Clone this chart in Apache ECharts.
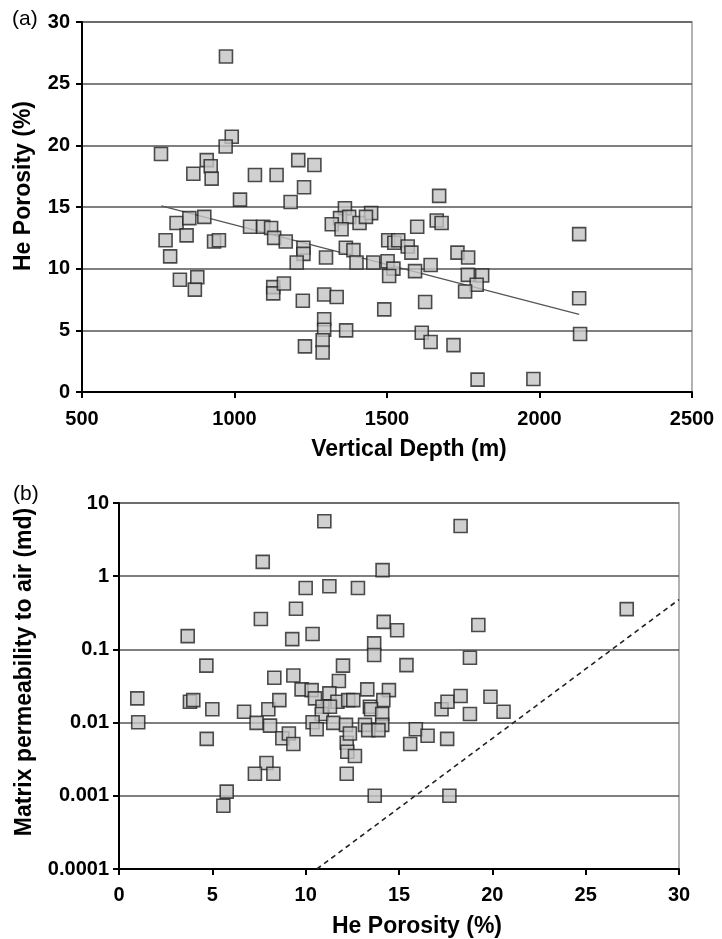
<!DOCTYPE html>
<html>
<head>
<meta charset="utf-8">
<script src="https://cdn.jsdelivr.net/npm/echarts@6/dist/echarts.min.js"></script>
<style>
  html, body { margin: 0; padding: 0; background: #fff; }
  #main { width: 722px; height: 939px; }
</style>
</head>
<body>
<div id="main"></div>
<script>
// NOTE - Data, panel (a): He porosity vs vertical depth

var depthA = [
  991, 971, 759, 909, 922, 925, 865, 1067, 1138, 1209, 1262, 1228, 1018, 1184, 1362,
  1346, 1376, 1319, 1351, 1410, 810, 852, 901, 1051, 1094, 1120, 843, 774, 933, 949,
  1130, 1168, 1226, 1226, 789, 1300, 1204, 1365, 1390, 1400, 821, 878, 870, 1127, 1127,
  1162, 1224, 1294, 1335, 1294, 1294, 1366, 1289, 1289, 1231, 972,
  1671, 1448, 1431, 1663, 1679, 1599, 1504, 1524, 1537, 1568, 1580, 1731, 1766, 1455, 1502,
  1521, 1507, 1592, 1643, 1765, 1812, 1794, 1756, 1491, 1625, 1614, 1643, 1718, 1797, 1980,
  2130, 2130, 2133
];
var porosityA = [
  20.7, 19.9, 19.3, 18.8, 18.3, 17.3, 17.7, 17.6, 17.6, 18.8, 18.4, 16.6, 15.6, 15.4, 14.9,
  14.1, 14.2, 13.6, 13.2, 13.7, 13.7, 14.1, 14.2, 13.4, 13.4, 13.3, 12.7, 12.3, 12.2, 12.3,
  12.5, 12.2, 11.7, 11.2, 11.0, 10.9, 10.5, 11.7, 11.5, 10.5, 9.1, 9.3, 8.3, 8.5, 8.0,
  8.8, 7.4, 7.9, 7.7, 5.9, 5.05, 5.0, 4.2, 3.2, 3.7, 27.2,
  15.9, 14.5, 14.2, 13.9, 13.7, 13.4, 12.3, 12.1, 12.3, 11.8, 11.3, 11.3, 10.9, 10.5, 10.6,
  10.0, 9.4, 9.8, 10.3, 9.5, 9.45, 8.7, 8.15, 6.7, 7.3, 4.8, 4.05, 3.8, 1.0, 1.05,
  12.8, 7.6, 4.7
];
// trend line end points
var trendDepth = [760, 2130];
var trendPorosity = [15.1, 6.3];

// NOTE - Data, panel (b): matrix permeability vs He porosity

var porosityB = [
  11.0, 7.7, 10.0, 11.27, 12.8, 9.48, 7.6, 3.68, 9.28, 10.37, 4.68, 8.32, 9.34, 12.0, 11.78,
  18.3, 14.12, 27.2, 14.18, 14.9, 19.25, 13.67, 13.67, 15.4, 18.8,
  0.98, 1.03, 3.8, 3.98, 5.0, 4.7, 6.7, 7.37, 8.09, 8.0, 8.59, 8.75, 9.1, 9.34, 7.9,
  7.28, 8.27, 5.77, 5.59, 9.78, 10.32, 10.5, 11.27, 11.7, 10.9, 10.86, 11.3, 10.37, 10.59, 11.48,
  12.28, 12.16, 12.2, 12.23, 12.2,
  12.55, 13.3, 14.46, 14.16, 13.44, 13.5, 14.1, 13.18, 14.1, 13.35, 13.9, 12.37, 12.64, 13.7, 17.7,
  15.9, 16.53, 15.6, 17.58, 17.28, 17.6, 18.3, 18.8, 19.9, 20.6
];
var permB = [
  5.63, 1.57, 0.69, 0.73, 0.69, 0.36, 0.26, 0.152, 0.138, 0.162, 0.060, 0.041, 0.044, 0.060, 0.037,
  4.86, 1.21, 0.355, 0.238, 0.183, 0.215, 0.121, 0.084, 0.061, 0.077,
  0.0214, 0.0101, 0.0193, 0.0203, 0.0152, 0.0060, 0.0141, 0.0099, 0.0091, 0.0152, 0.0203, 0.0061, 0.0071, 0.0051, 0.0028,
  0.0020, 0.0020, 0.00114, 0.00073, 0.0284, 0.0278, 0.0214, 0.0251, 0.0193, 0.0165, 0.0131, 0.0165, 0.0101, 0.0081, 0.0099,
  0.0203, 0.0093, 0.0053, 0.0040, 0.0020,
  0.0203, 0.0284, 0.0278, 0.0203, 0.0165, 0.0152, 0.0131, 0.0093, 0.0093, 0.0079, 0.0079, 0.0071, 0.0035, 0.001, 0.001,
  0.0081, 0.0066, 0.0051, 0.0060, 0.0152, 0.0193, 0.0231, 0.0131, 0.0226, 0.0141
];
// dashed limit line end points
var limitPorosity = [10.6, 30];
var limitPerm = [0.0001, 0.48];

var permTickLabels = ['0.0001', '0.001', '0.01', '0.1', '1', '10'];

// NOTE - Helpers

function zip(xs, ys) {
  return xs.map(function (x, i) { return [x, ys[i]]; });
}

var font = '"Liberation Sans", Arial, sans-serif';

function valueAxis(extra) {
  var ax = {
    axisLine: { show: true, lineStyle: { color: '#000', width: 2 } },
    axisTick: { show: true, inside: false, length: 6, lineStyle: { color: '#000', width: 2 } },
    axisLabel: {
      color: '#000', fontSize: 20, fontWeight: 'bold', fontFamily: font,
      formatter: function (v) { return String(v); }
    },
    splitLine: { show: false },
    nameLocation: 'middle',
    nameTextStyle: { color: '#000', fontSize: 23, fontWeight: 'bold', fontFamily: font }
  };
  for (var k in extra) {
    if (typeof extra[k] === 'object' && ax[k] && !Array.isArray(extra[k])) {
      ax[k] = Object.assign({}, ax[k], extra[k]);
    } else {
      ax[k] = extra[k];
    }
  }
  return ax;
}

var gridLine = { show: true, lineStyle: { color: '#555', width: 1.5 } };

var squareStyle = { color: '#c4c4c4', borderColor: '#222', borderWidth: 1.6 };

// NOTE - eCharts Init

var myChart = echarts.init(document.getElementById('main'), null, { renderer: 'canvas' });

var option = {
  animation: false,
  backgroundColor: '#fff',
  textStyle: { fontFamily: font },
  grid: [
    { left: 82, top: 22, width: 610, height: 370, show: true, borderColor: '#999', borderWidth: 1.5 },
    { left: 119, top: 503, width: 560, height: 366, show: true, borderColor: '#999', borderWidth: 1.5 }
  ],
  xAxis: [
    valueAxis({
      gridIndex: 0, type: 'value', min: 500, max: 2500, interval: 500,
      name: 'Vertical Depth (m)', nameGap: 46,
      nameTextStyle: { padding: [0, 0, 0, 44] },
      axisLabel: { margin: 17 }
    }),
    valueAxis({
      gridIndex: 1, type: 'value', min: 0, max: 30, interval: 5,
      name: 'He Porosity (%)', nameGap: 46,
      nameTextStyle: { padding: [0, 0, 0, 36] },
      axisLabel: { margin: 16 }
    })
  ],
  yAxis: [
    valueAxis({
      gridIndex: 0, type: 'value', min: 0, max: 30, interval: 5,
      name: 'He Porosity (%)', nameGap: 47,
      nameTextStyle: { padding: [0, 0, 0, 42] },
      axisLabel: { margin: 12 },
      splitLine: gridLine
    }),
    valueAxis({
      gridIndex: 1, type: 'log', logBase: 10, min: 0.0001, max: 10,
      name: 'Matrix permeability to air (md)', nameGap: 83,
      nameTextStyle: { padding: [0, 0, 0, 28] },
      axisLabel: {
        margin: 10,
        formatter: function (v) {
          return permTickLabels[Math.round(Math.log10(v)) + 4];
        }
      },
      splitLine: gridLine
    })
  ],
  graphic: [
    { type: 'text', left: 12, top: 9, style: { text: '(a)', fontSize: 21, fontFamily: font, fill: '#000' } },
    { type: 'text', left: 13, top: 484, style: { text: '(b)', fontSize: 21, fontFamily: font, fill: '#000' } }
  ],
  series: [
    {
      name: 'trend',
      type: 'line',
      xAxisIndex: 0, yAxisIndex: 0,
      data: zip(trendDepth, trendPorosity),
      symbol: 'none',
      lineStyle: { color: '#555', width: 1.3 },
      z: 1
    },
    {
      name: 'depth',
      type: 'scatter',
      xAxisIndex: 0, yAxisIndex: 0,
      data: zip(depthA, porosityA),
      symbol: 'rect',
      symbolSize: 13,
      itemStyle: squareStyle,
      z: 2
    },
    {
      name: 'limit',
      type: 'line',
      xAxisIndex: 1, yAxisIndex: 1,
      data: zip(limitPorosity, limitPerm),
      symbol: 'none',
      lineStyle: { color: '#222', width: 1.6, type: [5, 4] },
      z: 1
    },
    {
      name: 'perm',
      type: 'scatter',
      xAxisIndex: 1, yAxisIndex: 1,
      data: zip(porosityB, permB),
      symbol: 'rect',
      symbolSize: 13,
      itemStyle: squareStyle,
      z: 2
    }
  ]
};

myChart.setOption(option);
</script>
</body>
</html>
